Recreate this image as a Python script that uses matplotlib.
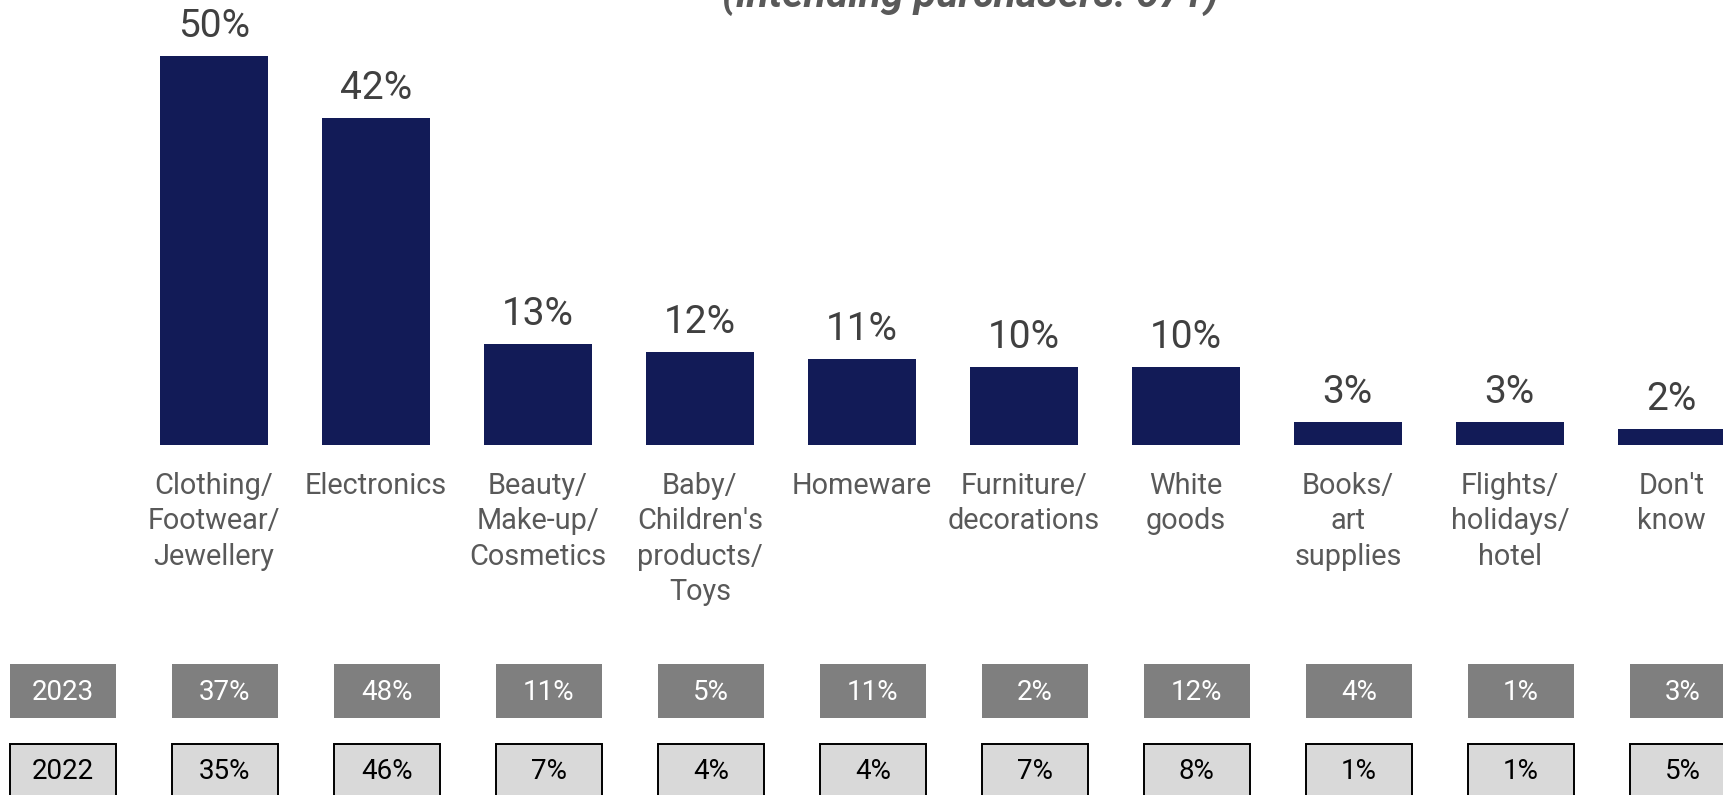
import matplotlib
matplotlib.use("Agg")
import matplotlib.pyplot as plt
from matplotlib.patches import Rectangle
from matplotlib.transforms import blended_transform_factory

# ---- data -------------------------------------------------------------
categories = [
    "Clothing/\nFootwear/\nJewellery",
    "Electronics",
    "Beauty/\nMake-up/\nCosmetics",
    "Baby/\nChildren's\nproducts/\nToys",
    "Homeware",
    "Furniture/\ndecorations",
    "White\ngoods",
    "Books/\nart\nsupplies",
    "Flights/\nholidays/\nhotel",
    "Don't\nknow",
]
share_current = [50, 42, 13, 12, 11, 10, 10, 3, 3, 2]
share_2023 = [37, 48, 11, 5, 11, 2, 12, 4, 1, 3]
share_2022 = [35, 46, 7, 4, 4, 7, 8, 1, 1, 5]
row_labels = ["2023", "2022"]
subtitle = "(intending purchasers: 671)"

# ---- style ------------------------------------------------------------
FONT = "Roboto"
NAVY = "#121b57"
DARK_GREY = "#7f7f7f"
LIGHT_GREY = "#d9d9d9"
VALUE_COLOR = "#404040"
LABEL_COLOR = "#595959"

W, H, DPI = 1724, 795, 100
fig = plt.figure(figsize=(W / DPI, H / DPI), dpi=DPI)
ax = fig.add_axes([0, 0, 1, 1])

# horizontal layout: category slot width and first bar centre (pixels)
slot_px = 162.0
first_px = 213.85
# vertical layout: bar baseline (pixels from top) and pixels per percent
base_px = 445.0
px_per_pct = 7.78

ax.set_xlim(-first_px / slot_px, (W - first_px) / slot_px)
ax.set_ylim(-(H - base_px) / px_per_pct, base_px / px_per_pct)
ax.axis("off")

x = list(range(len(categories)))
bars = ax.bar(x, share_current, width=107.5 / slot_px, color=NAVY, linewidth=0)

# value labels above the bars
for xi, v in zip(x, share_current):
    ax.annotate(f"{v}%", (xi, v), xytext=(0, 13.7), textcoords="offset points",
                ha="center", va="baseline", fontsize=28, family=FONT,
                fontweight="normal", color=VALUE_COLOR)

# category labels under the baseline
label_top = 1 - 472.0 / H
trans_x_fig = blended_transform_factory(ax.transData, fig.transFigure)
for xi, name in zip(x, categories):
    ax.text(xi, label_top, name, transform=trans_x_fig, ha="center", va="top",
            fontsize=20.8, family=FONT, fontweight="normal", color=LABEL_COLOR,
            linespacing=1.33, multialignment="center")

# comparison rows for previous years
box_w = 106 / slot_px
box_h = 53.5 / H
box_dx = 11 / slot_px
row_tops = [1 - 664.0 / H, 1 - 743.5 / H]
row_styles = [
    dict(face=DARK_GREY, edge="none", lw=0, text="white"),
    dict(face=LIGHT_GREY, edge="black", lw=1.4, text="black"),
]
for row_label, row_vals, top, st in zip(row_labels, [share_2023, share_2022], row_tops, row_styles):
    cells = [row_label] + [f"{v}%" for v in row_vals]
    positions = [-1] + x
    for xi, txt in zip(positions, cells):
        cx = xi + box_dx
        ax.add_patch(Rectangle((cx - box_w / 2, top - box_h), box_w, box_h,
                               transform=trans_x_fig, facecolor=st["face"],
                               edgecolor=st["edge"], linewidth=st["lw"],
                               clip_on=False))
        ax.text(cx, top - box_h / 2 - 1.5 / H, txt, transform=trans_x_fig,
                ha="center", va="center", fontsize=20, family=FONT,
                fontweight="normal", color=st["text"])

# subtitle, partly above the visible area
fig.text(970 / W, 1 - 7.0 / H, subtitle, ha="center", va="baseline",
         fontsize=29.5, family=FONT, fontweight="bold", fontstyle="italic",
         color=LABEL_COLOR)

fig.savefig("out.png", dpi=DPI)
